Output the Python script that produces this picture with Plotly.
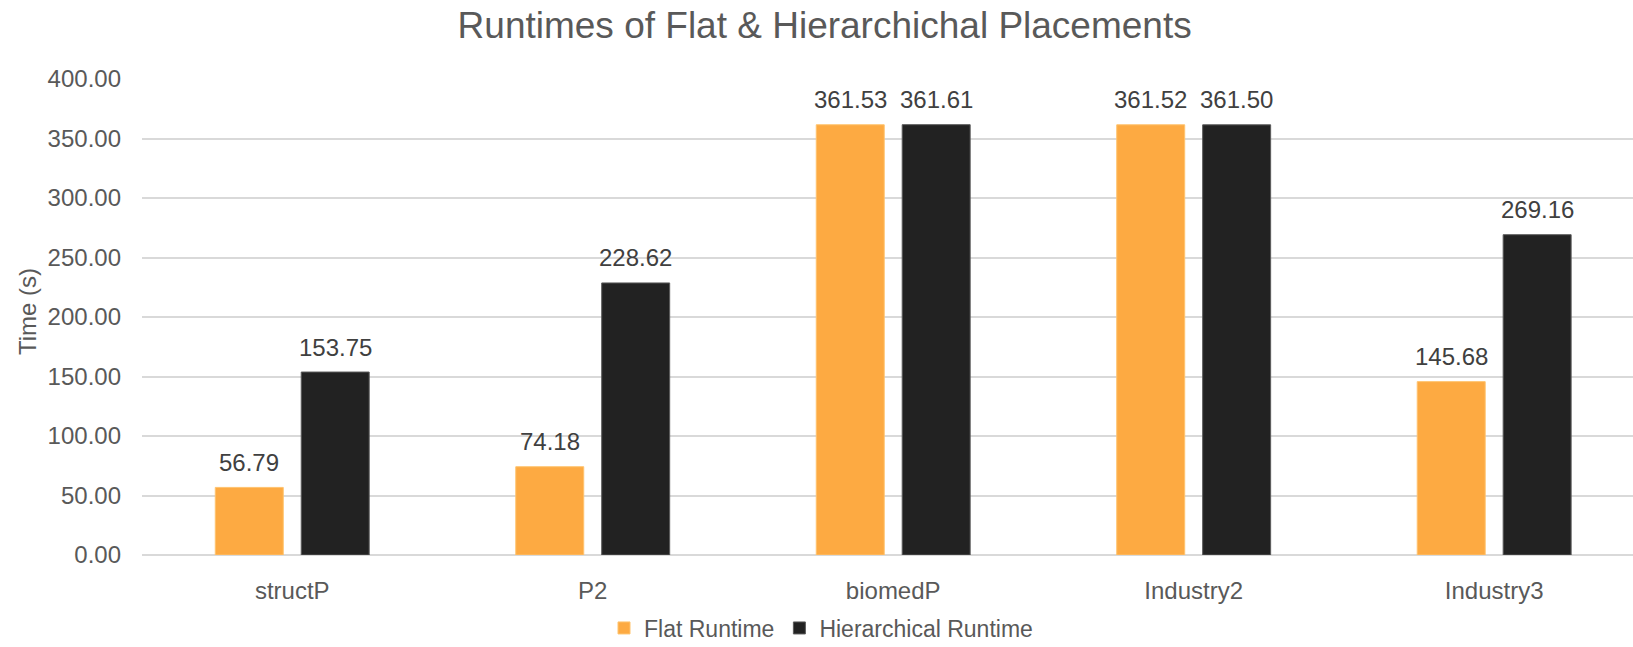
import plotly.graph_objects as go

# Benchmark designs and measured runtimes (seconds)
designs = ["structP", "P2", "biomedP", "Industry2", "Industry3"]
flat_runtime = [56.79, 74.18, 361.53, 361.52, 145.68]
hier_runtime = [153.75, 228.62, 361.61, 361.50, 269.16]
y_ticks = [0, 50, 100, 150, 200, 250, 300, 350, 400]

FONT = "Liberation Sans, Arial, sans-serif"
GREY = "#595959"
LABEL = "#404040"
ORANGE = "#FDAA42"
BLACK = "#222222"

W, H = 1633, 647
L, R, T, B = 142, 0, 79, 92
PLOT_W, PLOT_H = W - L - R, H - T - B

fig = go.Figure()
fig.add_trace(go.Bar(
    name="Flat Runtime", x=designs, y=flat_runtime,
    marker=dict(color=ORANGE, line=dict(color="#FFC36E", width=1)),
))
fig.add_trace(go.Bar(
    name="Hierarchical Runtime", x=designs, y=hier_runtime,
    marker=dict(color=BLACK, line=dict(color="#5a5a5a", width=1)),
))

# value labels above each bar
shift = 43
for i, d in enumerate(designs):
    for val, dx in ((flat_runtime[i], -shift), (hier_runtime[i], shift)):
        fig.add_annotation(
            x=d, y=val, xref="x", yref="y", text=f"{val:.2f}",
            showarrow=False, xshift=dx, yshift=25, yanchor="middle",
            font=dict(family=FONT, size=24, color=LABEL),
        )

# rotated y-axis title
fig.add_annotation(
    x=-(L - 27) / PLOT_W, y=(H - B - 312) / PLOT_H,
    xref="paper", yref="paper", text="Time (s)",
    showarrow=False, textangle=-90, xanchor="center", yanchor="middle",
    font=dict(family=FONT, size=24, color=GREY),
)

fig.update_layout(
    width=W, height=H,
    margin=dict(l=L, r=R, t=T, b=B, autoexpand=False),
    paper_bgcolor="white", plot_bgcolor="white",
    barmode="group", bargap=0.428, bargroupgap=0.209,
    title=dict(
        text="Runtimes of Flat & Hierarchichal Placements",
        x=0.505, xanchor="center", y=1 - 25 / H, yanchor="middle",
        font=dict(family=FONT, size=37, color=GREY),
    ),
    legend=dict(
        orientation="h", x=(821 - L) / PLOT_W, xanchor="center",
        y=-(628 - (H - B)) / PLOT_H, yanchor="middle",
        font=dict(family=FONT, size=23, color=GREY),
        itemwidth=30,
    ),
    xaxis=dict(
        range=[-0.5, 4.462], showgrid=False, showline=False,
        tickfont=dict(family=FONT, size=24, color=GREY),
        ticks="", ticklabelstandoff=19,
    ),
    yaxis=dict(
        range=[0, 400], tickvals=y_ticks, tickformat=".2f",
        showgrid=True, gridcolor="#D9D9D9", gridwidth=2,
        zeroline=True, zerolinecolor="#D9D9D9", zerolinewidth=2,
        showline=False, ticks="", ticklabelstandoff=20,
        tickfont=dict(family=FONT, size=24, color=GREY),
    ),
)

fig.write_html("out.html")
